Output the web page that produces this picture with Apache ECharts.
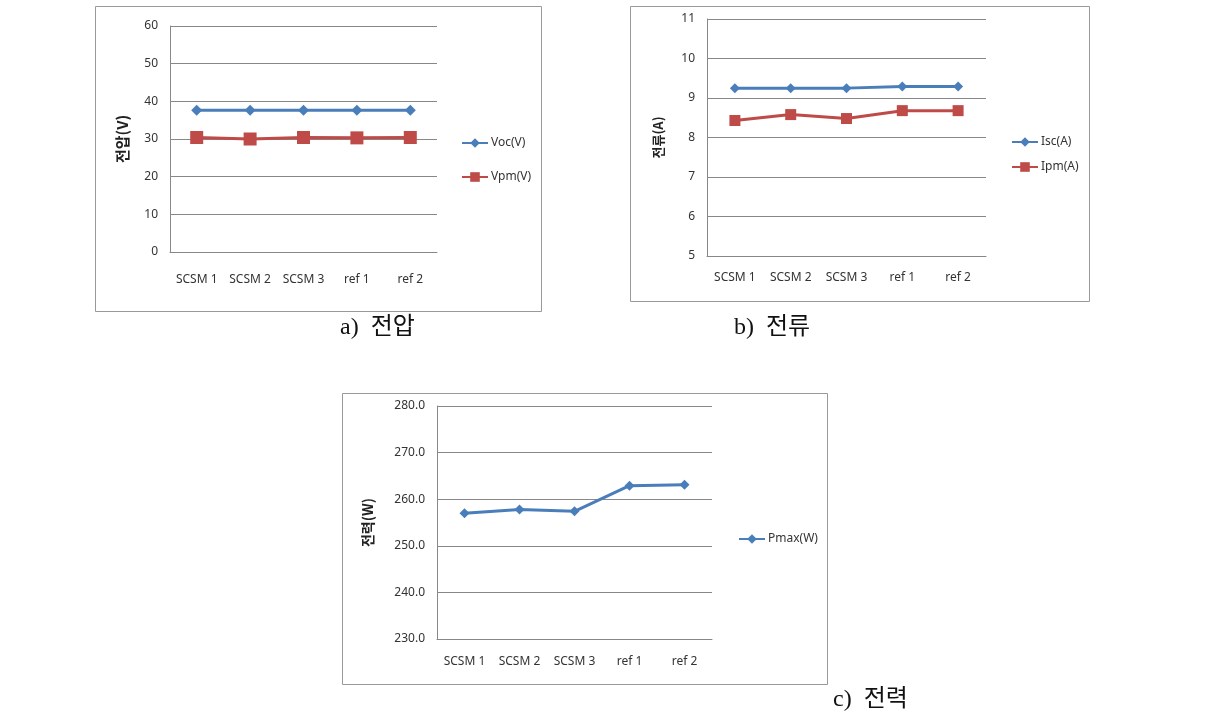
<!DOCTYPE html>
<html><head><meta charset="utf-8">
<script src="https://cdn.jsdelivr.net/npm/echarts@6/dist/echarts.min.js"></script>
<style>html,body{margin:0;padding:0;background:#fff}#c{width:1209px;height:726px}</style>
</head><body><div id="c"></div>
<script>
const categories = ['SCSM 1', 'SCSM 2', 'SCSM 3', 'ref 1', 'ref 2'];
const vocV = [37.6, 37.6, 37.6, 37.6, 37.6];
const vpmV = [30.4, 30.0, 30.4, 30.3, 30.4];
const iscA = [9.25, 9.25, 9.25, 9.29, 9.29];
const ipmA = [8.43, 8.58, 8.48, 8.68, 8.68];
const pmaxW = [257.0, 257.8, 257.4, 262.9, 263.1];
const captions = ['a)  전압', 'b)  전류', 'c)  전력'];

const BLUE = '#4a7ebb', RED = '#be4b48';
const FONT = '"Noto Sans", "Noto Sans CJK KR", sans-serif';
const chart = echarts.init(document.getElementById('c'), null, {renderer: 'canvas'});

function xAx(gi, margin) {
  return {type: 'category', gridIndex: gi, data: categories, boundaryGap: true,
    axisLine: {show: true, lineStyle: {color: '#888', width: 1}}, axisTick: {show: false},
    axisLabel: {color: '#333', fontSize: 12, fontFamily: FONT, margin: margin, interval: 0}};
}
function yAx(gi, min, max, interval, name, gap, nsize, fmt) {
  return {type: 'value', gridIndex: gi, min: min, max: max, interval: interval,
    name: name, nameLocation: 'middle', nameRotate: 90, nameGap: gap,
    nameTextStyle: {fontSize: nsize, fontWeight: 'bold', color: '#222', fontFamily: '"Noto Sans CJK KR", sans-serif'},
    axisLine: {show: true, lineStyle: {color: '#888', width: 1}}, axisTick: {show: false},
    splitLine: {show: true, lineStyle: {color: '#888', width: 1}},
    axisLabel: {color: '#333', fontSize: 12, fontFamily: FONT, margin: 12, formatter: fmt}};
}
function ser(name, data, gi, color, symbol, size) {
  return {name: name, type: 'line', xAxisIndex: gi, yAxisIndex: gi, data: data,
    symbol: symbol, symbolSize: size, lineStyle: {color: color, width: 3},
    itemStyle: {color: color}, animation: false};
}
function legend(names, left, top, gap) {
  return {data: names, left: left, top: top, orient: 'vertical', itemGap: gap,
    itemWidth: 26, itemHeight: 12, textStyle: {fontSize: 12, color: '#333', fontFamily: FONT, padding: [0, 0, 0, -2]}};
}
function box(x1, y1, x2, y2) {
  return {type: 'rect', shape: {x: x1 + 0.5, y: y1 + 0.5, width: x2 - x1, height: y2 - y1},
    style: {fill: 'none', stroke: '#999', lineWidth: 1}, silent: true};
}
function cap(text, x, y) {
  return {type: 'text', x: x, y: y, style: {text: text, fontSize: 24, fill: '#111',
    fontFamily: '"Liberation Serif", "Noto Sans CJK KR", serif'}, silent: true};
}

chart.setOption({
  animation: false,
  grid: [
    {left: 170, top: 26, width: 267, height: 226},
    {left: 707, top: 19, width: 279, height: 237},
    {left: 437, top: 406, width: 275, height: 233}
  ],
  xAxis: [xAx(0, 22), xAx(1, 16), xAx(2, 17)],
  yAxis: [
    yAx(0, 0, 60, 10, '전압(V)', 40, 15),
    yAx(1, 5, 11, 1, '전류(A)', 42, 13),
    yAx(2, 230, 280, 10, '전력(W)', 62, 14, v => v.toFixed(1))
  ],
  legend: [
    legend(['Voc(V)', 'Vpm(V)'], 456, 132, 22),
    legend(['Isc(A)', 'Ipm(A)'], 1006, 131, 13),
    legend(['Pmax(W)'], 733, 528, 10)
  ],
  series: [
    ser('Voc(V)', vocV, 0, BLUE, 'diamond', 11),
    ser('Vpm(V)', vpmV, 0, RED, 'rect', 13),
    ser('Isc(A)', iscA, 1, BLUE, 'diamond', 10),
    ser('Ipm(A)', ipmA, 1, RED, 'rect', 11),
    ser('Pmax(W)', pmaxW, 2, BLUE, 'diamond', 10)
  ],
  graphic: [
    box(95, 6, 541, 311),
    box(630, 6, 1089, 301),
    box(342, 393, 827, 684),
    cap(captions[0], 340, 316),
    cap(captions[1], 734, 316),
    cap(captions[2], 833, 688)
  ]
});
</script></body></html>
